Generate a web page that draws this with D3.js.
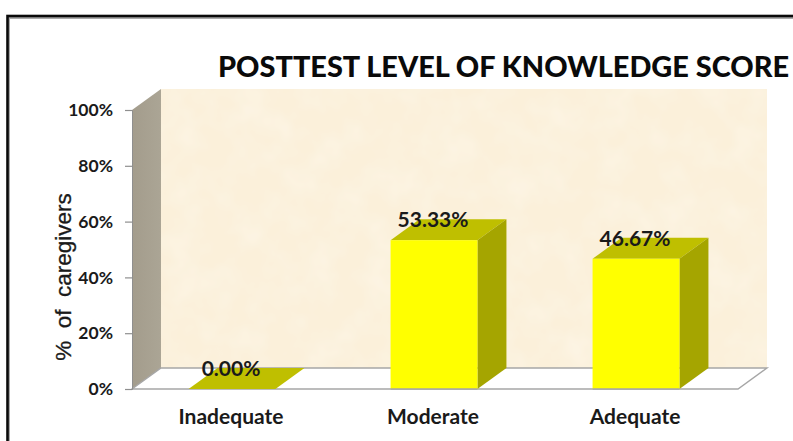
<!DOCTYPE html>
<html><head><meta charset="utf-8">
<script src="https://cdn.jsdelivr.net/npm/d3@7"></script>
<style>html,body{margin:0;padding:0;background:#fff}svg{display:block}</style>
</head><body><div id="chart"></div>
<script>
const categories = ["Inadequate", "Moderate", "Adequate"];
const values = [0, 53.33, 46.67];
const valueLabels = ["0.00%", "53.33%", "46.67%"];
const yTicks = [0, 20, 40, 60, 80, 100];
const titleText = "POSTTEST LEVEL OF KNOWLEDGE SCORE";
const yTitle = "%\u00A0 of\u00A0 caregivers";

const W = 793, H = 441;
const dx = 29, dy = -21;
const svg = d3.select("#chart").append("svg").attr("width", W).attr("height", H);
const x = d3.scaleBand().domain(categories).range([132, 738]).paddingInner(0.57).paddingOuter(0.285);
const y = d3.scaleLinear().domain([0, 100]).range([389, 110]);
const line = d3.line();
const poly = pts => line(pts) + "Z";
const font = "Lato, Carlito, 'Open Sans', sans-serif";

const defs = svg.append("defs");
const f = defs.append("filter").attr("id", "tex").attr("x", 0).attr("y", 0).attr("width", 1).attr("height", 1);
f.append("feTurbulence").attr("type", "fractalNoise").attr("baseFrequency", 0.03).attr("numOctaves", 3).attr("seed", 7);
f.append("feColorMatrix").attr("values", "0 0 0 0 1  0 0 0 0 0.98  0 0 0 0 0.93  0.55 0 0 0 -0.2");
f.append("feComposite").attr("in2", "SourceGraphic").attr("operator", "over");
const sg = defs.append("linearGradient").attr("id", "wall").attr("x1", 0).attr("x2", 1).attr("y1", 0).attr("y2", 0);
sg.append("stop").attr("offset", 0).attr("stop-color", "#a39c8c");
sg.append("stop").attr("offset", 1).attr("stop-color", "#aba595");

// frame
svg.append("rect").attr("x", 9).attr("y", 18).attr("width", W).attr("height", H).attr("fill", "none").attr("stroke", "#aaa").attr("stroke-width", 2);
svg.append("rect").attr("x", 7.5).attr("y", 16).attr("width", W + 10).attr("height", H).attr("fill", "none").attr("stroke", "#0a0a0a").attr("stroke-width", 2.6);

// back wall
const x0 = x.range()[0], x1 = x.range()[1];
svg.append("rect").attr("x", x0 + dx).attr("y", y(100) + dy).attr("width", x1 - x0).attr("height", y(0) - y(100))
  .attr("fill", "#fbf0da").attr("filter", "url(#tex)");
// side wall
svg.append("path").attr("d", poly([[x0, y(0)], [x0, y(100)], [x0 + dx, y(100) + dy], [x0 + dx, y(0) + dy]])).attr("fill", "url(#wall)");
// floor
svg.append("path").attr("d", poly([[x0, y(0)], [x0 + dx, y(0) + dy], [x1 + dx, y(0) + dy], [x1, y(0)]]))
  .attr("fill", "#fff").attr("stroke", "#a6a6a6").attr("stroke-width", 1.4);

// bars
const bars = svg.selectAll("g.bar").data(categories).join("g").attr("class", "bar");
bars.each(function (c, i) {
  const g = d3.select(this), l = x(c) - 1, r = l + x.bandwidth(), t = y(values[i]), b = y(0);
  g.append("path").attr("d", poly([[l, t], [l + dx, t + dy], [r + dx, t + dy], [r, t]])).attr("fill", "#bfbf00");
  if (values[i] > 0) {
    g.append("path").attr("d", poly([[r, t], [r + dx, t + dy], [r + dx, b + dy], [r, b]])).attr("fill", "#a5a500");
    g.append("rect").attr("x", l).attr("y", t).attr("width", r - l).attr("height", b - t).attr("fill", "#ffff00");
    g.append("path").attr("d", `M${l},${b}H${r}`).attr("stroke", "#a6a6a6").attr("stroke-width", 1.4);
  }
});

// y axis
const yAxis = d3.axisLeft(y).tickValues(yTicks).tickFormat(d => d + "%").tickSize(7).tickPadding(12);
const ya = svg.append("g").attr("transform", `translate(${x0},0)`).call(yAxis);
ya.select(".domain").attr("stroke", "#8f8f8f").attr("stroke-width", 1);
ya.selectAll(".tick line").attr("stroke", "#8f8f8f").attr("stroke-width", 1.2);
ya.selectAll("text").attr("font-family", font).attr("font-weight", 700).attr("font-size", 17.5).attr("fill", "#1a1a1a");

// x labels
svg.selectAll("text.cat").data(categories).join("text").attr("class", "cat")
  .attr("x", c => x(c) + x.bandwidth() / 2 - 2).attr("y", 424).attr("text-anchor", "middle")
  .attr("font-family", font).attr("font-weight", 700).attr("font-size", 21).attr("fill", "#1a1a1a").text(c => c);

// value labels
svg.selectAll("text.val").data(valueLabels).join("text").attr("class", "val")
  .attr("x", (d, i) => x(categories[i]) + x.bandwidth() / 2 - 2).attr("y", (d, i) => y(values[i]) - 13)
  .attr("text-anchor", "middle").attr("font-family", font).attr("font-weight", 700).attr("font-size", 21)
  .attr("fill", "#1a1a1a").text(d => d);

// titles
svg.append("text").attr("x", 218).attr("y", 77).attr("font-family", font).attr("font-weight", 900)
  .attr("font-size", 29).attr("fill", "#0a0a0a").attr("textLength", 571).attr("lengthAdjust", "spacingAndGlyphs").text(titleText);
svg.append("text").attr("transform", "translate(71,277) rotate(-90)").attr("text-anchor", "middle")
  .attr("font-family", "'Liberation Sans', Arial, sans-serif").attr("font-size", 22.5).attr("fill", "#1a1a1a")
  .attr("stroke", "#1a1a1a").attr("stroke-width", 0.3).text(yTitle);
</script></body></html>
